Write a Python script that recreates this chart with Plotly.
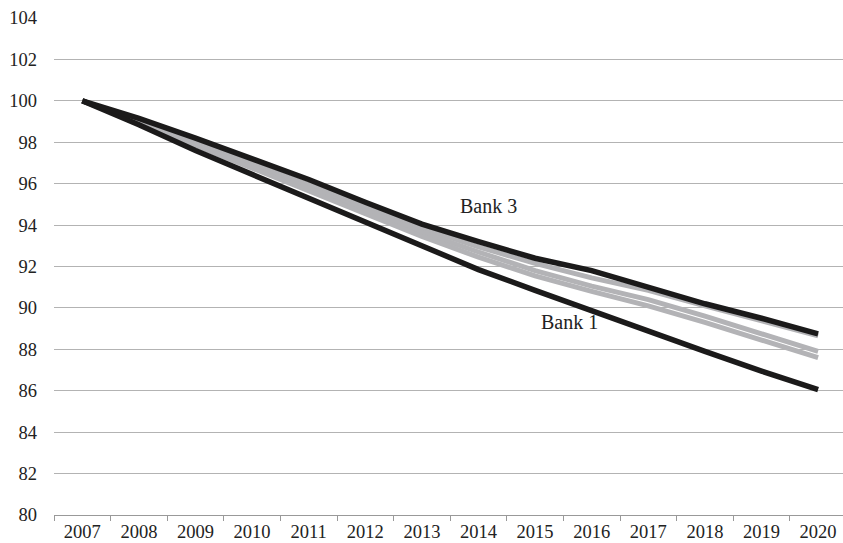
import plotly.graph_objects as go

years = [str(y) for y in range(2007, 2021)]

bank1 = [100, 98.85, 97.6, 96.45, 95.25, 94.1, 93.0, 91.85, 90.85, 89.85, 88.85, 87.9, 86.95, 86.05]
bank3 = [100, 99.15, 98.2, 97.2, 96.2, 95.1, 94.05, 93.2, 92.4, 91.8, 91.0, 90.2, 89.5, 88.75]
gray_a = [100, 99.0, 97.95, 96.95, 95.95, 94.9, 93.85, 92.95, 92.15, 91.45, 90.85, 90.1, 89.4, 88.65]
gray_b = [100, 99.0, 97.9, 96.85, 95.8, 94.75, 93.65, 92.7, 91.8, 91.05, 90.4, 89.6, 88.75, 87.9]
gray_c = [100, 98.95, 97.85, 96.75, 95.65, 94.55, 93.45, 92.45, 91.55, 90.8, 90.1, 89.3, 88.45, 87.6]

y_ticks = list(range(80, 105, 2))

BLACK = "#1b1a1a"
GRAY = "#b3b3b6"
FONT = "'Liberation Serif', 'Times New Roman', Times, serif"

fig = go.Figure()
for ys in [gray_a, gray_b, gray_c]:
    fig.add_trace(go.Scatter(x=years, y=ys, mode="lines",
                             line=dict(color=GRAY, width=5), showlegend=False))
for ys in [bank1, bank3]:
    fig.add_trace(go.Scatter(x=years, y=ys, mode="lines",
                             line=dict(color=BLACK, width=5.5), showlegend=False))

fig.add_annotation(x=7.17, y=94.9, xref="x", yref="y", text="Bank 3",
                   showarrow=False, font=dict(family=FONT, size=20, color="#222"))
fig.add_annotation(x=8.6, y=89.3, xref="x", yref="y", text="Bank 1",
                   showarrow=False, font=dict(family=FONT, size=20, color="#222"))

fig.update_layout(
    width=843, height=543,
    margin=dict(l=54, r=0, t=18, b=28, autoexpand=False),
    paper_bgcolor="white", plot_bgcolor="white",
    font=dict(family=FONT, size=18.5, color="#222"),
    showlegend=False,
)
fig.update_xaxes(type="category", range=[-0.5, 13.44], showgrid=False,
                 tickson="boundaries", ticks="outside", ticklen=5,
                 tickcolor="#999", showline=True, linecolor="#999", linewidth=1,
                 automargin=False,
                 tickfont=dict(family=FONT, size=18.5, color="#222"))
fig.update_yaxes(range=[80, 104], tickvals=y_ticks, showgrid=True,
                 gridcolor="#b3b3b3", gridwidth=1, zeroline=False,
                 showline=False, ticks="", ticklabelstandoff=16, automargin=False,
                 tickfont=dict(family=FONT, size=18.5, color="#222"))

fig.write_html("out.html", config={"displayModeBar": False},
               post_script="document.body.style.margin='0';document.body.style.padding='0';")
